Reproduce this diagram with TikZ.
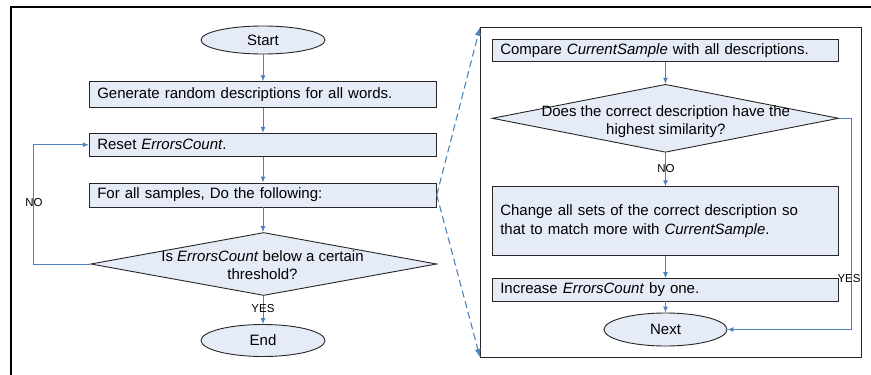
\documentclass[tikz,border=0pt]{standalone}
\usepackage{fontspec}
\setmainfont{Liberation Sans}
\usetikzlibrary{shapes.geometric,arrows.meta}
\definecolor{boxfill}{RGB}{230,236,247}
\definecolor{flow}{RGB}{79,129,189}
\newcommand\mainfs{\fontsize{15}{18.3}\selectfont}
\newcommand\lblfs{\fontsize{11.5}{13}\selectfont}
\tikzset{
  stepbox/.style={draw=black!85, fill=boxfill, line width=0.9pt, inner xsep=8pt, inner ysep=0pt, align=left, font=\mainfs},
  term/.style={ellipse, draw=black!85, fill=boxfill, line width=0.9pt, inner sep=0pt, font=\mainfs},
  dec/.style={diamond, draw=black!85, fill=boxfill, line width=0.9pt, inner sep=0pt},
  dectext/.style={align=center, font=\mainfs, inner sep=0pt},
  flowline/.style={draw=flow, line width=0.9pt, -{Latex[length=6pt,width=5pt]}},
  zoomline/.style={draw=flow, line width=1.1pt, dash pattern=on 7pt off 4pt, -{Latex[length=9pt,width=6pt]}},
  lbl/.style={font=\lblfs, inner sep=0pt}
}
\begin{document}
\begin{tikzpicture}[x=1pt,y=-1pt]
\useasboundingbox (0,0) rectangle (871,375);
% outer frame
\draw[line width=1.2pt] (871,7) -- (11,7) -- (11,375);

% left flow
\node[term, minimum width=124pt, minimum height=28pt] (start) at (263,40) {Start};
\node[stepbox, text width=331pt, minimum height=25.6pt] (gen) at (262.8,94.5) {Generate random descriptions for all words.};
\node[stepbox, text width=331pt, minimum height=23pt] (reset) at (262.8,144.7) {Reset \textit{ErrorsCount}.};
\node[stepbox, text width=331pt, minimum height=24pt] (forall) at (262.8,195) {For all samples, Do the following:};
\node[dec, minimum width=346pt, minimum height=63pt] (d1) at (263.7,264) {};
\node[dectext] (d1t) at (262.5,265) {Is \textit{ErrorsCount} below a certain\\threshold?};
\node[term, minimum width=124pt, minimum height=32pt] (end) at (263,340.5) {End};

\draw[flowline] (start.south) -- (start.south |- gen.north);
\draw[flowline] (gen.south -| start.south) -- (start.south |- reset.north);
\draw[flowline] (reset.south -| start.south) -- (start.south |- forall.north);
\draw[flowline] (forall.south -| start.south) -- (start.south |- d1.north);
\draw[flowline] (d1.south -| start.south) -- (end.north);
\draw[flowline] (d1.west) -- ++(-56.7,0) |- (reset.west);
\node[lbl] (nol) at (34,203) {NO};
\node[lbl] (yesl) at (263,309) {YES};

% right detail box
\node[draw=black!85, line width=1.1pt, minimum width=381pt, minimum height=330pt, inner sep=0pt] (inner) at (671.2,192.3) {};
\node[stepbox, text width=330.4pt, minimum height=22.3pt] (cmp) at (665.5,50.2) {Compare \textit{CurrentSample} with all descriptions.};
\node[dec, minimum width=346.4pt, minimum height=68pt] (d2) at (665.5,118.3) {};
\node[dectext] (d2t) at (665.8,121.5) {Does the correct description have the\\highest similarity?};
\node[stepbox, text width=330.4pt, minimum height=68.6pt] (chg) at (665.5,221) {Change all sets of the correct description so\\that to match more with \textit{CurrentSample}.};
\node[stepbox, text width=330.4pt, minimum height=22.3pt] (inc) at (665.5,289.8) {Increase \textit{ErrorsCount} by one.};
\node[term, minimum width=123pt, minimum height=33pt] (next) at (665.5,329.5) {Next};

\draw[flowline] (cmp.south) -- (d2.north);
\draw[flowline] (d2.south) -- (chg.north);
\draw[flowline] (chg.south) -- (inc.north);
\draw[flowline] (inc.south) -- (next.north);
\draw[flowline] (d2.east) -- ++(12,0) |- (next.east);
\node[lbl] (nor) at (666,169) {NO};
\node[lbl] (yesr) at (849,279) {YES};

% zoom lines
\draw[zoomline] (forall.east) -- (inner.north west);
\draw[zoomline] (forall.east) -- (inner.south west);
\end{tikzpicture}
\end{document}
